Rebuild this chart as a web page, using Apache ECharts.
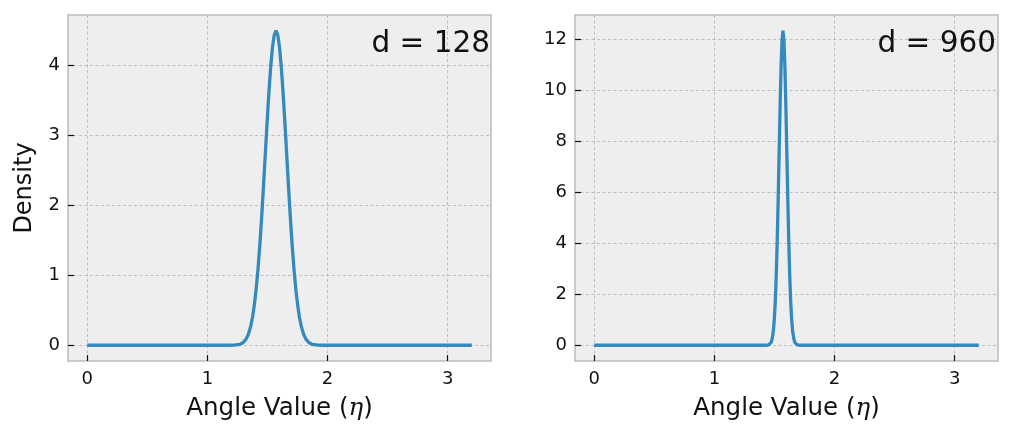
<!DOCTYPE html>
<html>
<head>
<meta charset="utf-8">
<script src="https://cdn.jsdelivr.net/npm/echarts@6/dist/echarts.min.js"></script>
<style>
html,body{margin:0;padding:0;background:#fff;}
#c{width:1014px;height:440px;}
</style>
</head>
<body>
<div id="c"></div>
<script>
// d = 128 panel
var x128 = [0, 1.0,
  1.1708,1.2208,1.2708,1.2958,1.3208,1.3408,1.3608,1.3758,1.3908,1.4058,1.4208,1.4358,1.4508,1.4658,1.4808,1.4958,1.5108,1.5258,1.5408,1.5558,1.5708,
  1.5858,1.6008,1.6158,1.6308,1.6458,1.6608,1.6758,1.6908,1.7058,1.7208,1.7358,1.7508,1.7658,1.7808,1.8008,1.8208,1.8458,1.8708,1.9208,1.9708,
  2.2, 3.2];
var y128 = [0, 0,
  0.0001,0.0017,0.0142,0.036,0.084,0.156,0.273,0.403,0.577,0.802,1.082,1.419,1.809,2.239,2.694,3.149,3.579,3.952,4.243,4.427,4.49,
  4.427,4.243,3.952,3.579,3.149,2.694,2.239,1.809,1.419,1.082,0.802,0.577,0.403,0.273,0.156,0.084,0.036,0.0142,0.0017,0.0001,
  0, 0];
// d = 960 panel
var x960 = [0, 1.2,
  1.4008,1.4308,1.4508,1.4608,1.4708,1.4808,1.4908,1.4988,1.5068,1.5148,1.5228,1.5308,1.5388,1.5468,1.5548,1.5628,1.5708,
  1.5788,1.5868,1.5948,1.6028,1.6108,1.6188,1.6268,1.6348,1.6428,1.6508,1.6608,1.6708,1.6808,1.6908,1.7108,1.7408,
  2.0, 3.2];
var y960 = [0, 0,
  0,0.001,0.0123,0.037,0.102,0.254,0.573,1.028,1.734,2.750,4.097,5.739,7.562,9.372,10.925,11.977,12.35,
  11.977,10.925,9.372,7.562,5.739,4.097,2.750,1.734,1.028,0.573,0.254,0.102,0.037,0.0123,0.001,0,
  0, 0];

var xTicks = [0, 1, 2, 3];
var yTicks128 = [0, 1, 2, 3, 4];
var yTicks960 = [0, 2, 4, 6, 8, 10, 12];
var titles = ['d = 128', 'd = 960'];
var xName = 'Angle Value ({e|η})';
var yName = 'Density';

function pairs(xs, ys) { return xs.map(function (x, i) { return [x, ys[i]]; }); }

var FONT = 'DejaVu Sans';
var splitLine = { show: true, lineStyle: { color: '#b2b2b2', width: 0.8, type: [3, 2.5] } };

function xAxis(idx) {
  return {
    type: 'value', gridIndex: idx, min: -0.16, max: 3.36, splitNumber: 4,
    axisLine: { show: false, onZero: false },
    axisTick: { show: true, inside: true, length: 6, customValues: xTicks, lineStyle: { color: '#111', width: 1.2 } },
    axisLabel: { customValues: xTicks, margin: 9, color: '#111', fontSize: 18, fontFamily: FONT },
    splitLine: splitLine,
    name: xName, nameLocation: 'middle', nameGap: 35,
    nameTextStyle: { fontSize: 24.5, fontFamily: FONT, color: '#111',
      rich: { e: { fontSize: 24.5, fontFamily: 'DejaVu Serif', fontStyle: 'italic', color: '#111' } } }
  };
}
function yAxis(idx, min, max, ticks, split, name) {
  return {
    type: 'value', gridIndex: idx, min: min, max: max, splitNumber: split,
    axisLine: { show: false, onZero: false },
    axisTick: { show: true, inside: true, length: 6, customValues: ticks, lineStyle: { color: '#111', width: 1.2 } },
    axisLabel: { customValues: ticks, margin: 8, color: '#111', fontSize: 18, fontFamily: FONT },
    splitLine: splitLine,
    name: name || '', nameLocation: 'middle', nameGap: 31, nameRotate: 90,
    nameTextStyle: { fontSize: 24, fontFamily: FONT, color: '#111' }
  };
}

var chart = echarts.init(document.getElementById('c'), null, { renderer: 'canvas' });
chart.setOption({
  backgroundColor: '#ffffff',
  animation: false,
  title: [
    { text: titles[0], right: 524, top: 29, padding: 0, textStyle: { fontSize: 29.5, fontWeight: 'normal', fontFamily: FONT, color: '#111' } },
    { text: titles[1], right: 18, top: 29, padding: 0, textStyle: { fontSize: 29.5, fontWeight: 'normal', fontFamily: FONT, color: '#111' } }
  ],
  grid: [
    { left: 68, right: 523, top: 15, bottom: 79, show: true, backgroundColor: '#eeeeee', borderColor: '#bcbcbc', borderWidth: 1.5 },
    { left: 575, right: 16, top: 15, bottom: 79, show: true, backgroundColor: '#eeeeee', borderColor: '#bcbcbc', borderWidth: 1.5 }
  ],
  xAxis: [xAxis(0), xAxis(1)],
  yAxis: [
    yAxis(0, -0.2245, 4.714, yTicks128, 5, yName),
    yAxis(1, -0.6175, 12.9675, yTicks960, 7, '')
  ],
  series: [
    { type: 'line', xAxisIndex: 0, yAxisIndex: 0, data: pairs(x128, y128), showSymbol: false, symbol: 'none',
      lineStyle: { color: '#348ABD', width: 3.3 }, smooth: false },
    { type: 'line', xAxisIndex: 1, yAxisIndex: 1, data: pairs(x960, y960), showSymbol: false, symbol: 'none',
      lineStyle: { color: '#348ABD', width: 3.3 }, smooth: false }
  ]
});
</script>
</body>
</html>
